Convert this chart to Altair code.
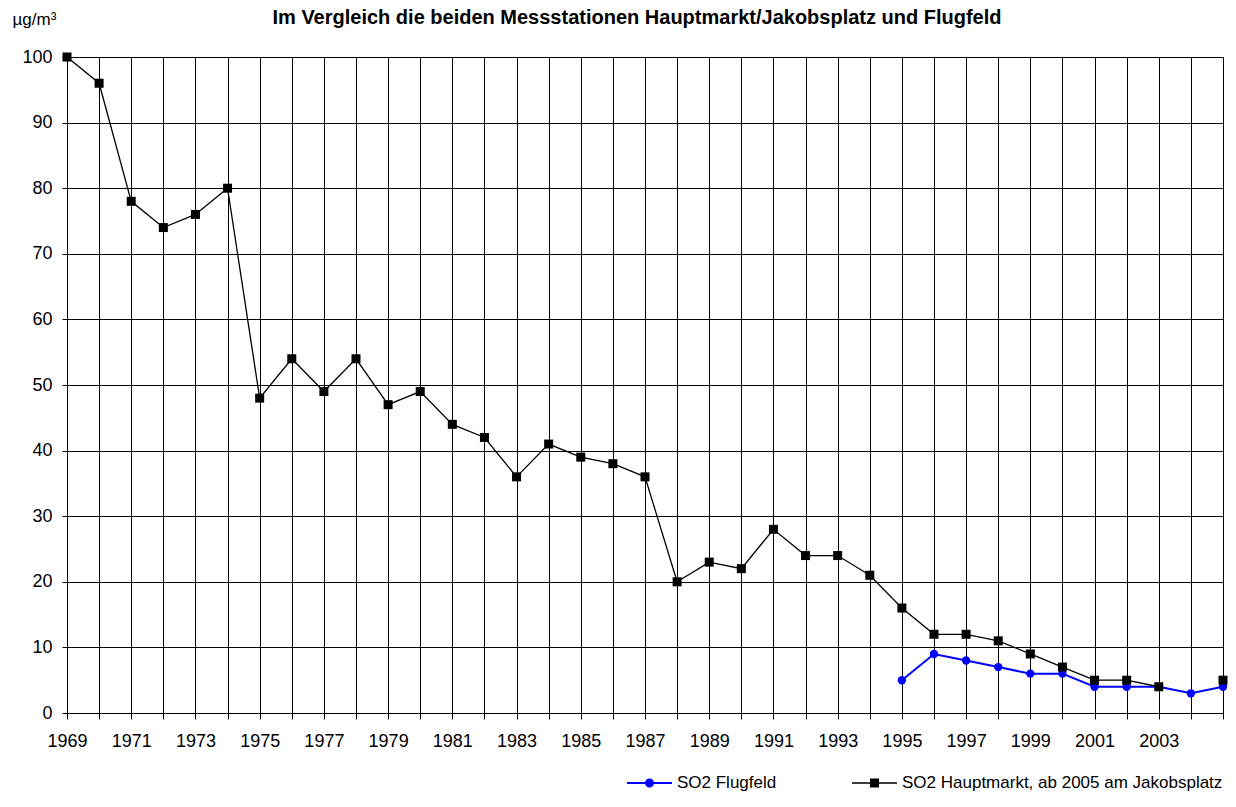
import altair as alt
import pandas as pd

# ---- data ----
years = list(range(1969, 2006))
hauptmarkt = [100, 96, 78, 74, 76, 80, 48, 54, 49, 54, 47, 49, 44, 42, 36, 41, 39, 38, 36,
              20, 23, 22, 28, 24, 24, 21, 16, 12, 12, 11, 9, 7, 5, 5, 4, None, 5]
flug_years = list(range(1995, 2006))
flugfeld = [5, 9, 8, 7, 6, 6, 4, 4, 4, 3, 4]
x_tick_values = list(range(1969, 2006))
y_tick_values = list(range(0, 101, 10))

NAME_F = "SO2 Flugfeld"
NAME_H = "SO2 Hauptmarkt, ab 2005 am Jakobsplatz"
TITLE = "Im Vergleich die beiden Messstationen Hauptmarkt/Jakobsplatz und Flugfeld"
UNIT = "µg/m³"

rows = []
seg = 0
for yr, v in zip(years, hauptmarkt):
    if v is None:
        seg += 1
        continue
    rows.append({"year": yr, "value": v, "series": NAME_H, "seg": seg})
for yr, v in zip(flug_years, flugfeld):
    rows.append({"year": yr, "value": v, "series": NAME_F, "seg": 0})
df = pd.DataFrame(rows)

FONT = "Liberation Sans"

x = alt.X(
    "year:Q",
    scale=alt.Scale(domain=[1969, 2005], nice=False, zero=False),
    axis=alt.Axis(
        values=x_tick_values,
        format="d",
        labelExpr="(datum.value % 2 == 1 && datum.value < 2004) ? datum.label : ''",
        grid=True, gridColor="#000000", gridWidth=1, gridOpacity=1,
        domainColor="#000000", tickColor="#000000", tickSize=6,
        labelFontSize=18, labelColor="#000000", labelPadding=13,
        labelFlush=False, labelOverlap=False, labelFont=FONT,
        title=None,
    ),
)
y = alt.Y(
    "value:Q",
    scale=alt.Scale(domain=[0, 100], nice=False),
    axis=alt.Axis(
        values=y_tick_values,
        grid=True, gridColor="#000000", gridWidth=1, gridOpacity=1,
        domainColor="#000000", tickColor="#000000", tickSize=5,
        labelFontSize=18, labelColor="#000000", labelPadding=10,
        labelFlush=False, labelFont=FONT,
        title=UNIT, titleAngle=0, titleAlign="left", titleBaseline="alphabetic",
        titleX=-55, titleY=-33, titleFontSize=17, titleFontWeight="normal",
        titleColor="#000000", titleFont=FONT,
    ),
)

PATH_F = ("M-1,-0.044H1V0.044H-1Z "
          "M0.2,0A0.2,0.2,0,1,1,-0.2,0A0.2,0.2,0,1,1,0.2,0Z")
PATH_H = ("M-1,-0.029H1V0.029H-1Z "
          "M-0.2,-0.2H0.2V0.2H-0.2Z")


def legend(path, lx):
    return alt.Legend(
        orient="none", legendX=lx, legendY=703.5, title=None,
        symbolType=path, symbolSize=2025, symbolStrokeWidth=0, symbolOpacity=1,
        labelFontSize=17, labelColor="#000000", labelFont=FONT,
        labelOffset=5, labelLimit=600, padding=0,
    )


base = alt.Chart(df)

blue_line = base.transform_filter(alt.datum.series == NAME_F).mark_line(
    color="#0000FF", strokeWidth=2
).encode(x=x, y=y)
blue_pts = base.transform_filter(alt.datum.series == NAME_F).mark_point(
    filled=True, shape="circle", size=70, opacity=1
).encode(
    x=x, y=y,
    color=alt.Color("series:N", scale=alt.Scale(domain=[NAME_F], range=["#0000FF"]),
                    legend=legend(PATH_F, 560)),
)

black_line = base.transform_filter(alt.datum.series == NAME_H).mark_line(
    color="#000000", strokeWidth=1.3
).encode(x=x, y=y, detail="seg:N")
black_pts = base.transform_filter(alt.datum.series == NAME_H).mark_point(
    filled=True, shape="square", size=81, opacity=1
).encode(
    x=x, y=y,
    color=alt.Color("series:N", scale=alt.Scale(domain=[NAME_H], range=["#000000"]),
                    legend=legend(PATH_H, 785)),
)

chart = alt.layer(
    alt.layer(blue_line, blue_pts),
    alt.layer(black_line, black_pts),
).resolve_scale(color="independent").resolve_legend(color="independent").properties(
    width=1156,
    height=656,
    autosize=alt.AutoSizeParams(type="none"),
    padding={"left": 59, "top": 49, "right": 5, "bottom": 86},
    title=alt.TitleParams(
        text=TITLE, fontSize=20, fontWeight="bold", anchor="middle",
        offset=-18, color="#000000", font=FONT, dx=-8,
    ),
).configure(font=FONT).configure_view(stroke=None)

chart.save("out.html", embed_options={"renderer": "svg", "actions": False})
